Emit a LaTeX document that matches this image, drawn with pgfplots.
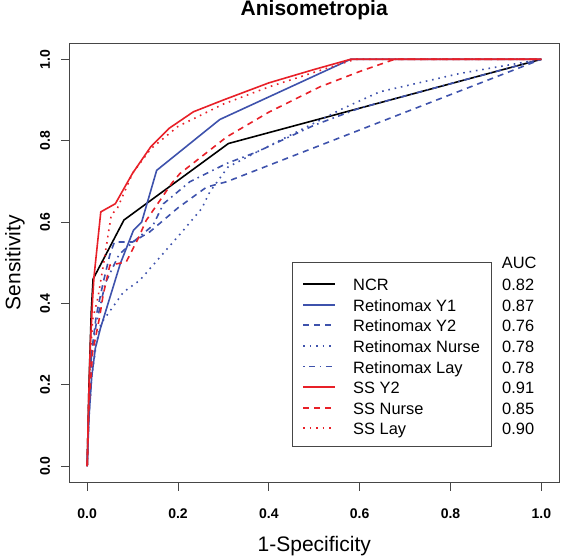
\documentclass[border=0pt]{standalone}
\usepackage{fontspec}
\setmainfont{Liberation Sans}
\usepackage{pgfplots}
\pgfplotsset{compat=1.18}
\definecolor{rblue}{RGB}{62,82,172}
\definecolor{rred}{RGB}{232,32,40}
\definecolor{frame}{RGB}{70,70,70}
\newcommand{\legtxt}[2]{\makebox[127.6pt][l]{#1}\rlap{\hspace{21.4pt}#2}}
\begin{document}
\begin{tikzpicture}
\useasboundingbox (0,0) rectangle (562pt,555pt);
\begin{axis}[
  at={(69pt,72.5pt)}, anchor=south west,
  width=490.5pt, height=439.5pt, scale only axis,
  xmin=-0.04, xmax=1.04, ymin=-0.04, ymax=1.04,
  axis line style={frame, line width=0.9pt},
  tick style={frame, line width=0.9pt},
  tick align=outside, major tick length=8pt,
  xtick pos=lower, ytick pos=left,
  xtick={0,0.2,0.4,0.6,0.8,1}, ytick={0,0.2,0.4,0.6,0.8,1},
  xticklabels={0.0,0.2,0.4,0.6,0.8,1.0},
  yticklabels={0.0,0.2,0.4,0.6,0.8,1.0},
  /pgf/number format/assume math mode=true,
  xticklabel style={font=\bfseries\fontsize{14}{14}\selectfont, anchor=center, yshift=-23.5pt},
  yticklabel style={font=\bfseries\fontsize{14}{14}\selectfont, rotate=90, anchor=center, yshift=16pt},
  title={Anisometropia},
  title style={at={(axis description cs:0.5,1)}, anchor=center, yshift=27pt, font=\bfseries\fontsize{21}{21}\selectfont},
  xlabel={1-Specificity},
  xlabel style={at={(axis description cs:0.5,0)}, anchor=center, yshift=-63.5pt, font=\fontsize{21}{21}\selectfont},
  ylabel={Sensitivity},
  ylabel style={at={(axis description cs:0,0.5)}, anchor=center, yshift=54pt, font=\fontsize{21}{21}\selectfont},
  legend style={at={(axis cs:0.45,0.503)}, anchor=north west, draw=frame, line width=0.9pt,
    font=\fontsize{16.4}{16.4}\selectfont, inner xsep=8.2pt, inner ysep=8pt,
    row sep=-3.36pt, column sep=15.2pt,
    cells={anchor=west, inner sep=0pt, text height=18.5pt, text depth=0.8pt}},
  legend image code/.code={\path (0pt,-1.95pt); \draw[#1, line width=1.9pt] (2.5pt,-1.95pt) -- (34.1pt,-1.95pt);},
  rl/.style={line width=1.6pt},
]
\addplot[rl, black] coordinates {(0,0)(0.004,0.2)(0.009,0.38)(0.013,0.46)(0.081,0.605)(0.311,0.793)(1,1)};
\addlegendentry{\legtxt{NCR}{0.82}}
\addplot[rl, rblue] coordinates {(0,0)(0.004,0.12)(0.01,0.22)(0.018,0.29)(0.029,0.338)(0.073,0.498)(0.102,0.58)(0.12,0.6)(0.153,0.727)(0.292,0.852)(0.58,1)(1,1)};
\addlegendentry{\legtxt{Retinomax Y1}{0.87}}
\addplot[rl, rblue, dash pattern=on 6pt off 5pt] coordinates {(0,0)(0.004,0.15)(0.01,0.28)(0.02,0.37)(0.035,0.45)(0.05,0.52)(0.06,0.551)(0.1,0.551)(0.138,0.576)(0.2,0.635)(0.263,0.686)(0.307,0.699)(1,1)};
\addlegendentry{\legtxt{Retinomax Y2}{0.76}}
\addplot[rl, rblue, dash pattern=on 1.6pt off 4.8pt] coordinates {(0,0)(0.004,0.12)(0.01,0.22)(0.02,0.3)(0.03,0.35)(0.08,0.428)(0.116,0.457)(0.212,0.58)(0.252,0.633)(0.27,0.674)(0.31,0.735)(0.37,0.77)(0.45,0.815)(0.563,0.879)(0.644,0.92)(0.82,0.965)(1,1)};
\addlegendentry{\legtxt{Retinomax Nurse}{0.78}}
\addplot[rl, rblue, dash pattern=on 1.6pt off 4.4pt on 6pt off 4.4pt] coordinates {(0,0)(0.004,0.18)(0.01,0.28)(0.02,0.35)(0.04,0.45)(0.07,0.52)(0.1,0.55)(0.145,0.592)(0.168,0.645)(0.226,0.699)(0.307,0.744)(0.373,0.772)(0.5,0.838)(0.6,0.88)(1,1)};
\addlegendentry{\legtxt{Retinomax Lay}{0.78}}
\addplot[rl, rred] coordinates {(0,0)(0.003,0.15)(0.007,0.3)(0.012,0.41)(0.015,0.465)(0.03,0.625)(0.062,0.645)(0.1,0.72)(0.14,0.785)(0.18,0.83)(0.234,0.871)(0.3,0.9)(0.4,0.942)(0.5,0.975)(0.58,1)(1,1)};
\addlegendentry{\legtxt{SS Y2}{0.91}}
\addplot[rl, rred, dash pattern=on 6pt off 5pt] coordinates {(0,0)(0.004,0.15)(0.012,0.28)(0.028,0.37)(0.035,0.42)(0.05,0.494)(0.086,0.502)(0.112,0.559)(0.13,0.604)(0.186,0.695)(0.204,0.719)(0.307,0.809)(0.4,0.87)(0.512,0.932)(0.6,0.97)(0.677,1)(1,1)};
\addlegendentry{\legtxt{SS Nurse}{0.85}}
\addplot[rl, rred, dash pattern=on 1.6pt off 4.8pt] coordinates {(0,0)(0.004,0.2)(0.012,0.36)(0.024,0.416)(0.035,0.49)(0.053,0.617)(0.067,0.635)(0.1,0.72)(0.14,0.78)(0.2,0.835)(0.3,0.89)(0.4,0.932)(0.5,0.968)(0.59,1)(1,1)};
\addlegendentry{\legtxt{SS Lay}{0.90}}
\node[anchor=west, font=\fontsize{16.4}{16.4}\selectfont, inner sep=0pt] at (axis cs:0.9126,0.4987) {AUC};
\end{axis}
\end{tikzpicture}
\end{document}
